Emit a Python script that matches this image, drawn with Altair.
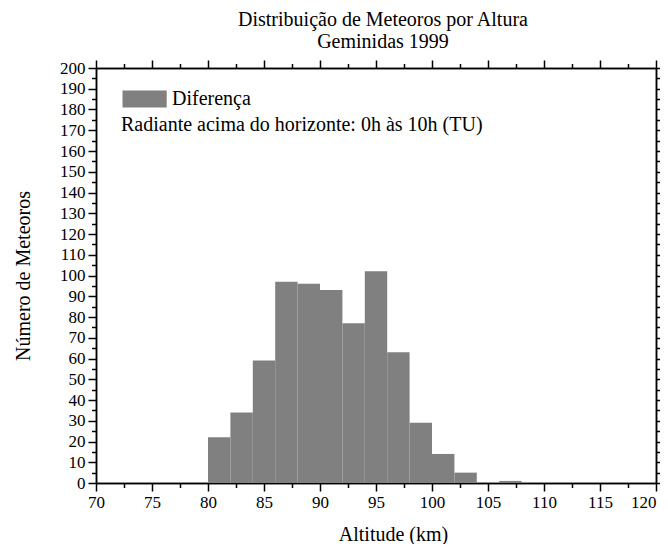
import altair as alt
import pandas as pd

# Histogram bins (km) and counts
bin_start = [80, 82, 84, 86, 88, 90, 92, 94, 96, 98, 100, 102, 106]
bin_end = [82, 84, 86, 88, 90, 92, 94, 96, 98, 100, 102, 104, 108]
counts = [22, 34, 59, 97, 96, 93, 77, 102, 63, 29, 14, 5, 1]
series_name = "Diferença"

x_major = [70, 75, 80, 85, 90, 95, 100, 105, 110, 115, 120]
x_minor = [72.5, 77.5, 82.5, 87.5, 92.5, 97.5, 102.5, 107.5, 112.5, 117.5]
y_major = [0, 10, 20, 30, 40, 50, 60, 70, 80, 90, 100, 110, 120, 130, 140,
           150, 160, 170, 180, 190, 200]
y_minor = [5, 15, 25, 35, 45, 55, 65, 75, 85, 95, 105, 115, 125, 135, 145,
           155, 165, 175, 185, 195]

title_lines = ["Distribuição de Meteoros por Altura", "Geminidas 1999"]
x_title = "Altitude (km)"
y_title = "Número de Meteoros"
legend_note = "Radiante acima do horizonte: 0h às 10h (TU)"

df = pd.DataFrame({
    "start": bin_start,
    "end": bin_end,
    "count": counts,
    "serie": [series_name] * len(counts),
})

FONT = "Liberation Serif"
xs = alt.Scale(domain=[70, 120], nice=False, zero=False)
ys = alt.Scale(domain=[0, 200], nice=False, zero=True)

common = dict(tickWidth=1.5, domainWidth=1.5, domainColor="black", tickColor="black",
              grid=False, labelFlush=False, labelOverlap=False,
              labelFont=FONT, titleFont=FONT)


def ax(orient, values, size, labels, **kw):
    d = dict(common)
    d.update(kw)
    return alt.Axis(orient=orient, values=values, tickSize=size, labels=labels, **d)


base = alt.Chart(df)

main = base.mark_bar(stroke=None).encode(
    x=alt.X("start:Q", scale=xs,
            axis=ax("bottom", x_major, 8, True, format="d", labelFontSize=17,
                    labelPadding=3, labelColor="black",
                    labelAlign={"condition": {"test": "datum.value == 120", "value": "right"},
                                "value": "center"},
                    title=x_title, titleFontSize=20,
                    titleFontWeight="normal", titleColor="black",
                    titleX=297, titleY=57, titleBaseline="alphabetic",
                    titleAlign="center")),
    x2="end:Q",
    y=alt.Y("count:Q", scale=ys,
            axis=ax("left", y_major, 8, True, format="d", labelFontSize=17,
                    labelPadding=3, labelColor="black",
                    title=y_title, titleFontSize=20,
                    titleFontWeight="normal", titleColor="black",
                    titleX=-67, titleBaseline="alphabetic", titleAngle=-90)),
    y2=alt.datum(0),
    color=alt.Color("serie:N",
                    scale=alt.Scale(domain=[series_name], range=["#808080"]),
                    legend=alt.Legend(
                        orient="none", legendX=25, legendY=21,
                        title=legend_note, titleOrient="bottom",
                        titleAnchor="start", titleAlign="left",
                        titleFont=FONT, titleFontSize=20, titleFontWeight="normal",
                        titleColor="black", titlePadding=6, titleLimit=0,
                        labelFont=FONT, labelFontSize=20, labelColor="black",
                        labelLimit=0, labelOffset=31,
                        symbolType="M-1,-1L4.2,-1L4.2,1L-1,1Z", symbolSize=289,
                        symbolStrokeWidth=0, symbolOpacity=1, padding=0)),
)

minor_bl = base.mark_bar(opacity=0).encode(
    x=alt.X("start:Q", scale=xs, axis=ax("bottom", x_minor, 4.5, False, title=None)),
    x2="end:Q",
    y=alt.Y("count:Q", scale=ys, axis=ax("left", y_minor, 4.5, False, title=None)),
    y2=alt.datum(0),
)

major_tr = base.mark_bar(opacity=0).encode(
    x=alt.X("start:Q", scale=xs, axis=ax("top", x_major, 8, False, title=None)),
    x2="end:Q",
    y=alt.Y("count:Q", scale=ys, axis=ax("right", y_major, 8, False, title=None)),
    y2=alt.datum(0),
)

minor_tr = base.mark_bar(opacity=0).encode(
    x=alt.X("start:Q", scale=xs, axis=ax("top", x_minor, 4.5, False, title=None)),
    x2="end:Q",
    y=alt.Y("count:Q", scale=ys, axis=ax("right", y_minor, 4.5, False, title=None)),
    y2=alt.datum(0),
)

chart = alt.layer(main, minor_bl, major_tr, minor_tr).resolve_axis(
    x="independent", y="independent"
).properties(
    width=560,
    height=415,
    title=alt.TitleParams(text=title_lines, font=FONT, fontSize=20,
                          fontWeight="normal", color="black", anchor="middle",
                          offset=7, lineHeight=22, dx=7),
    autosize=alt.AutoSizeParams(type="none"),
    padding={"left": 88, "top": 60, "right": 4, "bottom": 61},
).configure_view(stroke=None).configure_axis(
    labelFont=FONT, titleFont=FONT
).configure(background="white", font=FONT)

chart.save("out.html", embed_options={"renderer": "svg", "actions": False})
